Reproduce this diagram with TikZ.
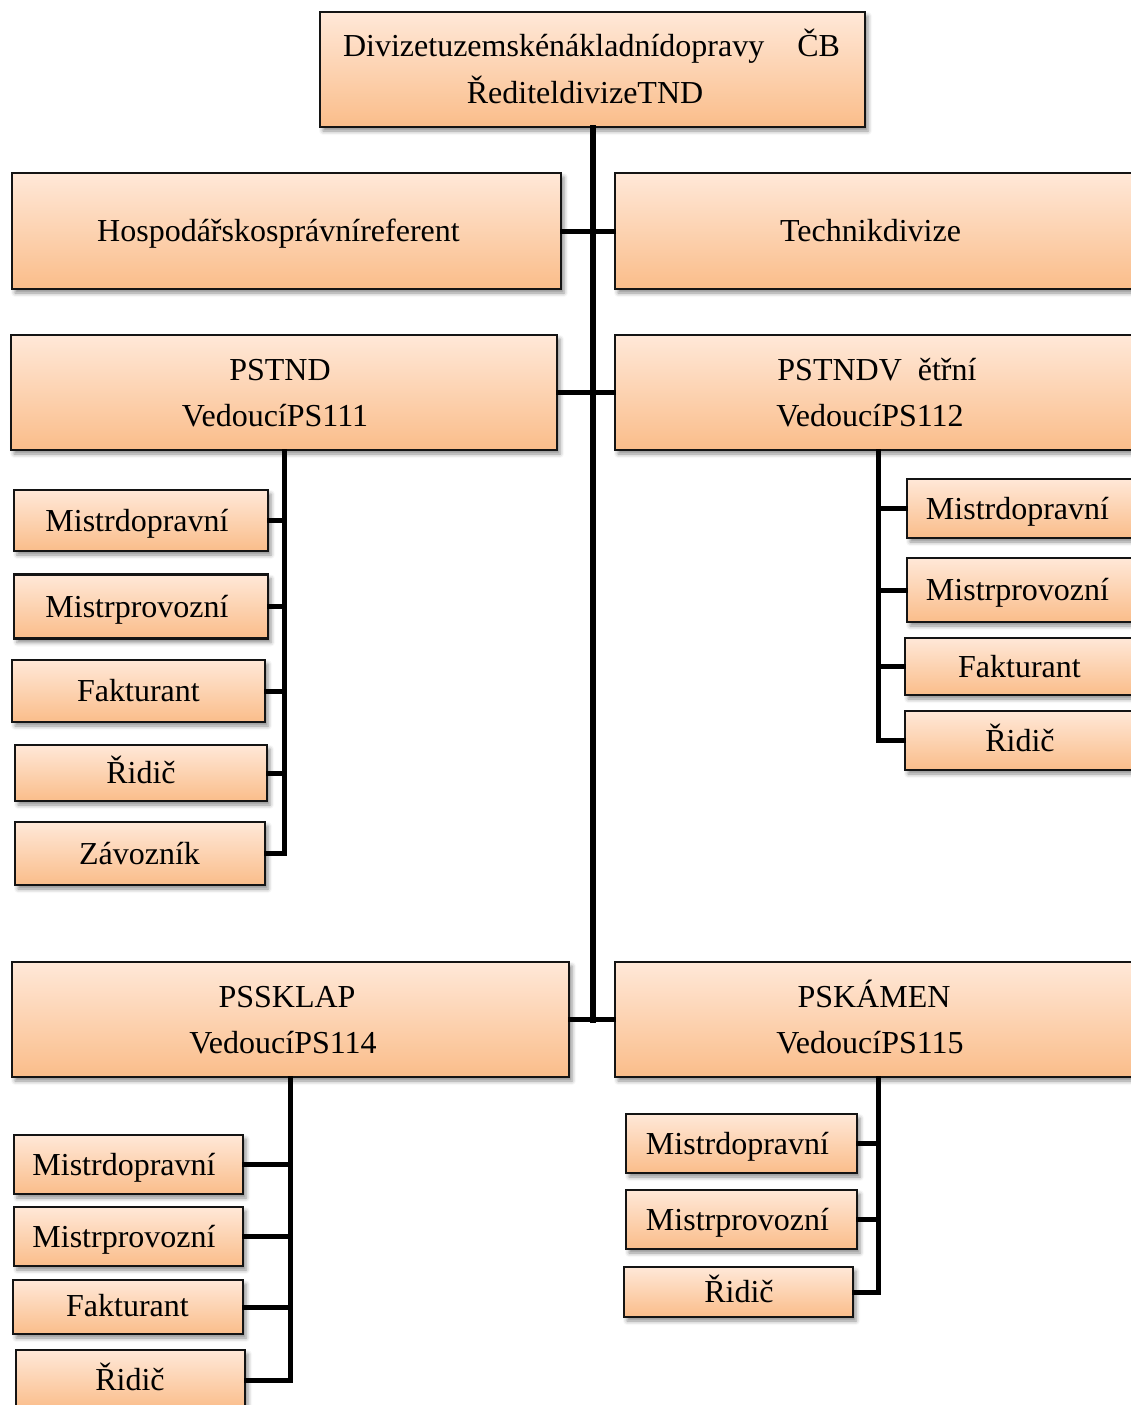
\documentclass[tikz,border=0pt]{standalone}
\usepackage{fontspec}
\setmainfont{Liberation Serif}
\usetikzlibrary{shadows.blur}
\definecolor{boxtop}{RGB}{255,232,216}
\definecolor{boxbot}{RGB}{250,189,138}
\definecolor{boxline}{RGB}{20,20,20}
% one line of box text: horizontal offset, baseline offset, text
\newcommand\boxline[3]{\makebox[0pt]{\raisebox{#2}[0pt][0pt]{\kern#1\kern#1\relax #3}}}
\begin{document}
\begin{tikzpicture}[x=1pt,y=-1pt,
  box/.style={rectangle, draw=boxline, line width=2.6pt, top color=boxtop, bottom color=boxbot,
    inner sep=0pt, font=\fontsize{32}{46}\selectfont,
    blur shadow={shadow xshift=3pt, shadow yshift=-4pt, shadow blur radius=4pt, shadow opacity=45}},
  trunk/.style={line width=6pt, line cap=rect},
  branch/.style={line width=5pt, line cap=rect}]
\useasboundingbox (0,0) rectangle (1131,1405);
\clip (0,0) rectangle (1131,1405);

% head of division
\node[box, minimum width=545, minimum height=115] (top) at (592.5,69.5)
  {\boxline{-1pt}{12.5pt}{Divizetuzemskénákladnídopravy\hspace{33pt}ČB}\boxline{-7.5pt}{-34pt}{ŘediteldivizeTND}};

% staff level
\node[box, minimum width=549, minimum height=116] (hosp) at (286.5,231) {\boxline{-8pt}{-10pt}{Hospodářskosprávníreferent}};
\node[box, minimum width=526, minimum height=116] (tech) at (878,231) {\boxline{-7.5pt}{-10pt}{Technikdivize}};

% operating centres, upper row
\node[box, minimum width=546, minimum height=115] (ps111) at (284,392.5)
  {\boxline{-4pt}{12.5pt}{PSTND}\boxline{-9pt}{-33.5pt}{VedoucíPS111}};
\node[box, minimum width=526, minimum height=115] (ps112) at (878,392.5)
  {\boxline{-1pt}{12.5pt}{PSTNDV\hspace{16pt}ětřní}\boxline{-8pt}{-33.5pt}{VedoucíPS112}};

% operating centres, lower row
\node[box, minimum width=557, minimum height=115] (ps114) at (290.5,1019.5)
  {\boxline{-3.5pt}{12pt}{PSSKLAP}\boxline{-7.5pt}{-34pt}{VedoucíPS114}};
\node[box, minimum width=526, minimum height=115] (ps115) at (878,1019.5)
  {\boxline{-4pt}{12pt}{PSKÁMEN}\boxline{-8pt}{-34pt}{VedoucíPS115}};

% staff of PS111
\node[box, minimum width=254, minimum height=61] (a1) at (141,520.5) {\boxline{-4pt}{-10.5pt}{Mistrdopravní}};
\node[box, minimum width=254, minimum height=64] (a2) at (141,606.5) {\boxline{-4pt}{-10.5pt}{Mistrprovozní}};
\node[box, minimum width=253, minimum height=62] (a3) at (138.5,691) {\boxline{0pt}{-10.5pt}{Fakturant}};
\node[box, minimum width=252, minimum height=56] (a4) at (141,773) {\boxline{0pt}{-10.5pt}{Řidič}};
\node[box, minimum width=250, minimum height=63] (a5) at (140,853.5) {\boxline{-0.5pt}{-10.5pt}{Závozník}};

% staff of PS112
\node[box, minimum width=234, minimum height=59] (b1) at (1024,508.5) {\boxline{-6.5pt}{-10.5pt}{Mistrdopravní}};
\node[box, minimum width=234, minimum height=64] (b2) at (1024,590) {\boxline{-6.5pt}{-10.5pt}{Mistrprovozní}};
\node[box, minimum width=236, minimum height=57] (b3) at (1023,666.5) {\boxline{-3.5pt}{-10.5pt}{Fakturant}};
\node[box, minimum width=236, minimum height=59] (b4) at (1023,740.5) {\boxline{-3pt}{-10.5pt}{Řidič}};

% staff of PS114
\node[box, minimum width=229, minimum height=59] (c1) at (128.5,1164.5) {\boxline{-4.5pt}{-10.5pt}{Mistrdopravní}};
\node[box, minimum width=229, minimum height=59] (c2) at (128.5,1236.5) {\boxline{-4.5pt}{-10.5pt}{Mistrprovozní}};
\node[box, minimum width=230, minimum height=54] (c3) at (128,1307) {\boxline{-0.5pt}{-9.5pt}{Fakturant}};
\node[box, minimum width=229, minimum height=60] (c4) at (130.5,1380) {\boxline{-0.5pt}{-10.5pt}{Řidič}};

% staff of PS115
\node[box, minimum width=231, minimum height=59] (d1) at (741.5,1143.5) {\boxline{-4pt}{-10.5pt}{Mistrdopravní}};
\node[box, minimum width=231, minimum height=59] (d2) at (741.5,1219.5) {\boxline{-4pt}{-10.5pt}{Mistrprovozní}};
\node[box, minimum width=229, minimum height=50] (d3) at (738.5,1292) {\boxline{0.5pt}{-10.5pt}{Řidič}};

% main trunk and its side branches
\draw[trunk] (top.south) -- (top.south |- ps114.east);
\draw[branch] (hosp.east) -- (tech.west);
\draw[branch] (ps111.east) -- (ps112.west);
\draw[branch] (ps114.east) -- (ps115.west);

% PS111 subtree
\draw[branch] (ps111.south) |- (a5.east);
\foreach \n in {a1,a2,a3,a4} \draw[branch] (\n.east) -- (\n.east -| ps111.south);

% PS112 subtree
\draw[branch] (ps112.south) |- (b4.west);
\foreach \n in {b1,b2,b3} \draw[branch] (\n.west) -- (\n.west -| ps112.south);

% PS114 subtree
\draw[branch] (ps114.south) |- (c4.east);
\foreach \n in {c1,c2,c3} \draw[branch] (\n.east) -- (\n.east -| ps114.south);

% PS115 subtree
\draw[branch] (ps115.south) |- (d3.east);
\foreach \n in {d1,d2} \draw[branch] (\n.east) -- (\n.east -| ps115.south);
\end{tikzpicture}
\end{document}
